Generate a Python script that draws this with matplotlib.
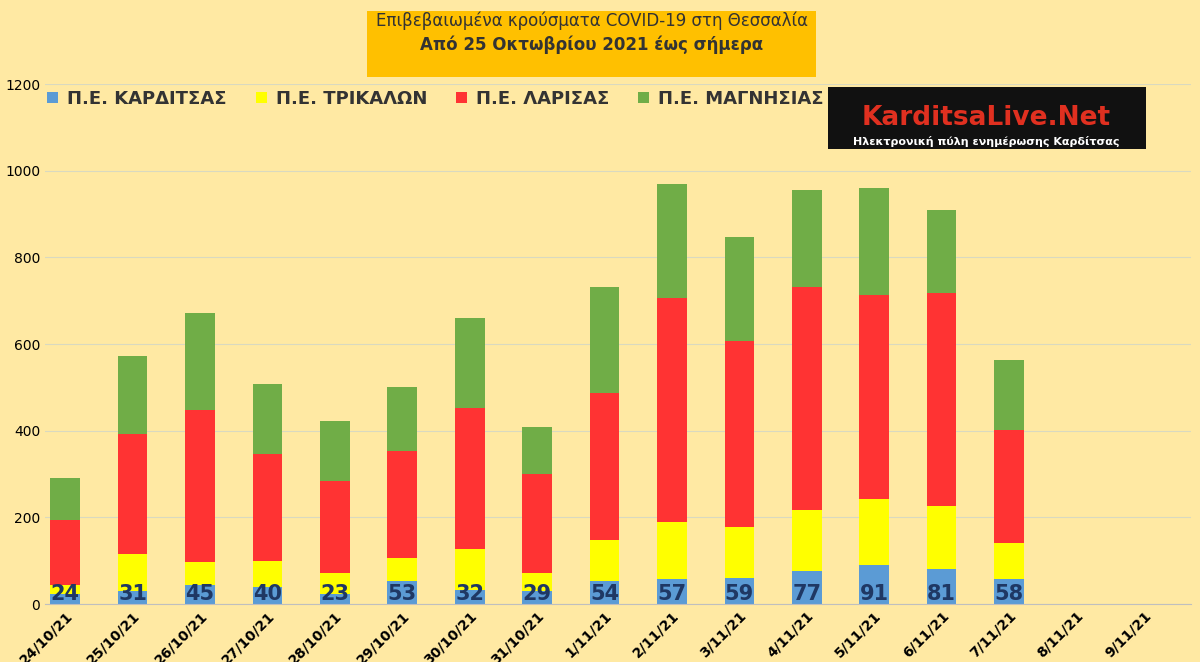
import matplotlib.pyplot as plt
import numpy as np
from matplotlib.patches import Rectangle

dates = ['24/10/21', '25/10/21', '26/10/21', '27/10/21', '28/10/21', '29/10/21', '30/10/21',
         '31/10/21', '1/11/21', '2/11/21', '3/11/21', '4/11/21', '5/11/21', '6/11/21',
         '7/11/21', '8/11/21', '9/11/21']
karditsa = [24, 31, 45, 40, 23, 53, 32, 29, 54, 57, 59, 77, 91, 81, 58, 0, 0]
trikala = [20, 85, 52, 59, 49, 53, 95, 43, 94, 132, 119, 140, 151, 145, 83, 0, 0]
larisa = [150, 276, 351, 247, 212, 247, 325, 228, 339, 517, 429, 515, 471, 492, 261, 0, 0]
magnisia = [97, 180, 224, 162, 138, 148, 208, 108, 245, 263, 240, 223, 247, 191, 161, 0, 0]

bg = '#FFE9A3'
fig = plt.figure(figsize=(12, 6.62), dpi=100, facecolor=bg)
ax = fig.add_axes([0.0375, 0.0876, 0.955, 0.7855], facecolor=bg)

x = np.arange(len(dates))
w = 0.44
k = np.array(karditsa)
t = np.array(trikala)
l = np.array(larisa)
m = np.array(magnisia)
ax.bar(x, k, w, color='#5B9BD5', label='Π.Ε. ΚΑΡΔΙΤΣΑΣ', zorder=2)
ax.bar(x, t, w, bottom=k, color='#FFFF00', label='Π.Ε. ΤΡΙΚΑΛΩΝ', zorder=2)
ax.bar(x, l, w, bottom=k + t, color='#FF3333', label='Π.Ε. ΛΑΡΙΣΑΣ', zorder=2)
ax.bar(x, m, w, bottom=k + t + l, color='#70AD47', label='Π.Ε. ΜΑΓΝΗΣΙΑΣ', zorder=2)

for xi, v in zip(x, karditsa):
    if v:
        ax.text(xi, 0, str(v), ha='center', va='bottom', fontsize=15,
                fontweight='bold', color='#1F3864', zorder=3)

ax.set_ylim(0, 1200)
ax.set_xlim(-0.3, 16.7)
ax.set_yticks(range(0, 1201, 200))
ax.yaxis.grid(True, color='#D9D9C0', linewidth=0.8, zorder=0)
ax.set_xticks(x)
ax.set_xticklabels(dates, rotation=45, ha='right', rotation_mode='anchor',
                   fontsize=10, fontweight='bold')
ax.tick_params(axis='y', labelsize=10, length=0)
ax.tick_params(axis='x', length=0)
for s in ax.spines.values():
    s.set_visible(False)
ax.spines['bottom'].set_visible(True)
ax.spines['bottom'].set_color('#BFBFBF')

leg = ax.legend(loc='upper left', bbox_to_anchor=(-0.012, 1.02), ncol=4, frameon=False,
                prop={'size': 13, 'weight': 'bold'}, handlelength=0.6, handleheight=0.6,
                columnspacing=1.6, handletextpad=0.5)
for txt in leg.get_texts():
    txt.set_color('#333333')

# title box
fig.patches.append(Rectangle((0.306, 0.884), 0.374, 0.1, transform=fig.transFigure,
                             facecolor='#FFC000', edgecolor='none'))
fig.text(0.493, 0.968, 'Επιβεβαιωμένα κρούσματα COVID-19 στη Θεσσαλία', ha='center',
         va='center', fontsize=12, color='#333333')
fig.text(0.493, 0.932, 'Από 25 Οκτωβρίου 2021 έως σήμερα', ha='center', va='center',
         fontsize=12, fontweight='bold', color='#333333')

# logo box
fig.patches.append(Rectangle((0.69, 0.775), 0.265, 0.093, transform=fig.transFigure,
                             facecolor='#111111', edgecolor='none'))
fig.text(0.822, 0.822, 'KarditsaLive.Net', ha='center', va='center', fontsize=19,
         fontweight='bold', color='#E03020')
fig.text(0.822, 0.787, 'Ηλεκτρονική πύλη ενημέρωσης Καρδίτσας', ha='center', va='center',
         fontsize=8, color='white', fontweight='bold')

fig.savefig('out.png', dpi=100, facecolor=bg)
